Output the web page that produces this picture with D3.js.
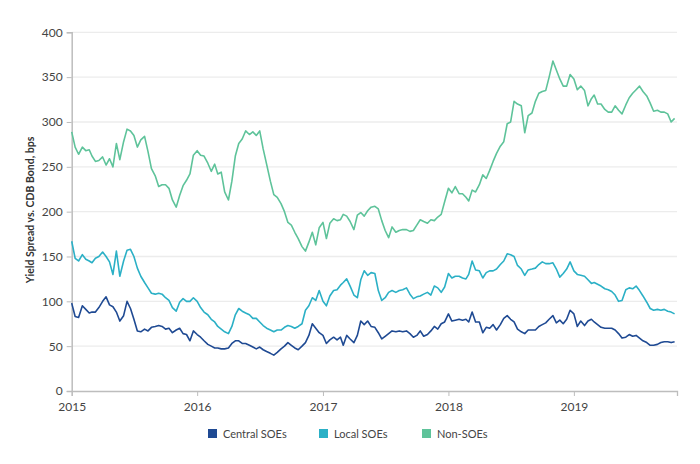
<!DOCTYPE html>
<html><head><meta charset="utf-8">
<script src="https://cdn.jsdelivr.net/npm/d3@7"></script>
<style>body{margin:0;background:#fff}svg{display:block;font-family:Lato,"Open Sans",sans-serif}</style>
</head><body><svg id="c" width="700" height="464"></svg>
<script>
const dates = [
"2015-01-01","2015-01-11","2015-01-21","2015-02-01","2015-02-11","2015-02-21","2015-03-01","2015-03-11","2015-03-21","2015-04-01","2015-04-11","2015-04-21",
"2015-05-01","2015-05-11","2015-05-21","2015-06-01","2015-06-11","2015-06-21","2015-07-01","2015-07-11","2015-07-21","2015-08-01","2015-08-11","2015-08-21",
"2015-09-01","2015-09-11","2015-09-21","2015-10-01","2015-10-11","2015-10-21","2015-11-01","2015-11-11","2015-11-21","2015-12-01","2015-12-11","2015-12-21",
"2016-01-01","2016-01-11","2016-01-21","2016-02-01","2016-02-11","2016-02-21","2016-03-01","2016-03-11","2016-03-21","2016-04-01","2016-04-11","2016-04-21",
"2016-05-01","2016-05-11","2016-05-21","2016-06-01","2016-06-11","2016-06-21","2016-07-01","2016-07-11","2016-07-21","2016-08-01","2016-08-11","2016-08-21",
"2016-09-01","2016-09-11","2016-09-21","2016-10-01","2016-10-11","2016-10-21","2016-11-01","2016-11-11","2016-11-21","2016-12-01","2016-12-11","2016-12-21",
"2017-01-01","2017-01-11","2017-01-21","2017-02-01","2017-02-11","2017-02-21","2017-03-01","2017-03-11","2017-03-21","2017-04-01","2017-04-11","2017-04-21",
"2017-05-01","2017-05-11","2017-05-21","2017-06-01","2017-06-11","2017-06-21","2017-07-01","2017-07-11","2017-07-21","2017-08-01","2017-08-11","2017-08-21",
"2017-09-01","2017-09-11","2017-09-21","2017-10-01","2017-10-11","2017-10-21","2017-11-01","2017-11-11","2017-11-21","2017-12-01","2017-12-11","2017-12-21",
"2018-01-01","2018-01-11","2018-01-21","2018-02-01","2018-02-11","2018-02-21","2018-03-01","2018-03-11","2018-03-21","2018-04-01","2018-04-11","2018-04-21",
"2018-05-01","2018-05-11","2018-05-21","2018-06-01","2018-06-11","2018-06-21","2018-07-01","2018-07-11","2018-07-21","2018-08-01","2018-08-11","2018-08-21",
"2018-09-01","2018-09-11","2018-09-21","2018-10-01","2018-10-11","2018-10-21","2018-11-01","2018-11-11","2018-11-21","2018-12-01","2018-12-11","2018-12-21",
"2019-01-01","2019-01-11","2019-01-21","2019-02-01","2019-02-11","2019-02-21","2019-03-01","2019-03-11","2019-03-21","2019-04-01","2019-04-11","2019-04-21",
"2019-05-01","2019-05-11","2019-05-21","2019-06-01","2019-06-11","2019-06-21","2019-07-01","2019-07-11","2019-07-21","2019-08-01","2019-08-11","2019-08-21",
"2019-09-01","2019-09-11","2019-09-21","2019-10-01","2019-10-11","2019-10-21"
];

const centralSOEs = [
98,83,82,95,91,87,88,88,93,100, 105,96,94,88,78,84,100,92,80,67,
66,69,67,71,72,73,72,69,70,65, 68,70,64,63,56,67,63,60,56,52,
50,48,48,47,47,48,53,56,56,53, 53,51,49,47,49,46,44,42,40,43,
47,50,54,51,48,46,50,54,62,75, 70,65,62,53,57,60,57,60,51,62,
58,54,62,78,74,78,72,71,65,58, 61,64,67,66,67,66,67,64,60,62,
67,61,63,67,72,69,75,77,86,78, 79,80,79,80,77,88,77,77,65,71,
70,74,68,74,81,84,80,77,69,66, 64,68,68,68,72,74,76,80,84,76,
79,75,80,90,86,72,78,73,78,80, 77,74,71,70,70,70,68,64,59,60,
63,61,62,59,56,54,51,51,52,54, 55,55,54,55
];

const localSOEs = [
167,148,145,152,147,145,143,148,150,155, 150,144,130,156,128,145,157,158,150,137,
128,121,115,109,108,109,108,104,101,93, 89,99,103,100,100,104,100,93,88,85,
80,77,72,69,66,64,72,85,92,89, 87,85,81,81,77,73,70,68,66,68,
68,71,73,72,70,72,75,90,95,104, 101,112,100,95,106,112,113,118,121,125,
117,107,104,124,134,129,132,131,112,101, 104,110,112,110,112,113,115,108,103,105,
106,108,110,107,117,115,110,116,131,126, 128,128,126,125,130,145,135,134,126,132,
134,134,136,141,145,153,152,150,140,136, 129,135,136,137,141,144,142,142,143,136,
127,131,136,144,134,130,129,128,124,120, 121,119,117,114,113,111,107,100,101,113,
115,114,117,112,106,99,92,90,91,90, 91,89,88,86
];

const nonSOEs = [
289,272,264,272,268,269,262,256,257,261, 252,259,250,276,258,278,292,290,285,272,
280,284,267,248,240,228,230,230,226,213, 205,218,229,235,242,263,268,263,262,254,
245,253,242,244,222,213,234,262,276,281, 290,286,289,285,290,270,253,234,219,216,
209,200,188,185,177,170,161,156,166,177, 163,182,188,170,187,192,190,191,197,195,
189,180,196,199,195,201,205,206,203,190, 179,171,183,177,179,180,180,178,179,185,
191,189,187,191,190,194,197,211,226,221, 228,220,220,216,212,224,222,230,241,237,
246,256,265,273,278,298,300,323,320,318, 288,307,310,323,332,334,335,350,368,358,
348,340,340,353,348,336,340,335,318,326, 330,320,320,314,311,311,318,313,309,319,
327,332,336,340,334,329,321,312,313,311, 311,309,300,304
];

const yTicks = [0,50,100,150,200,250,300,350,400];
const xTickYears = ["2015","2016","2017","2018","2019"];
const seriesNames = ["Central SOEs","Local SOEs","Non-SOEs"];
const seriesColors = ["#1f4a93","#2bb0c6","#5ec39a"];
const yTitle = "Yield Spread vs. CDB Bond, bps";

const parse = d3.timeParse("%Y-%m-%d");
const svg = d3.select("#c");
const L = 71.7, R = 677, T = 32.3, B = 391;
const x = d3.scaleTime().domain([parse("2015-01-01"), parse("2019-10-28")]).range([L, R]);
const y = d3.scaleLinear().domain([0, 400]).range([B, T]);

// gridlines
svg.append("g").selectAll("line").data(yTicks.filter(d => d > 0)).join("line")
  .attr("x1", L).attr("x2", R).attr("y1", d => y(d)).attr("y2", d => y(d))
  .attr("stroke", "#ececec").attr("stroke-width", 1.3);

// y axis
const ya = svg.append("g").attr("transform", `translate(${L},0)`)
  .call(d3.axisLeft(y).tickValues(yTicks).tickSize(5).tickPadding(4));
ya.select(".domain").attr("stroke", "#bdbdbd").attr("stroke-width", 1.5);
ya.selectAll(".tick line").attr("stroke", "#bdbdbd");
ya.selectAll("text").attr("fill", "#444").attr("font-size", 12).attr("font-family", "Lato,'Open Sans',sans-serif");

// x axis
const xa = svg.append("g").attr("transform", `translate(0,${B})`)
  .call(d3.axisBottom(x).tickValues(xTickYears.map(s => parse(s + "-01-01")))
    .tickFormat(d3.timeFormat("%Y")).tickSize(5).tickPadding(6));
xa.select(".domain").attr("stroke", "#bdbdbd").attr("stroke-width", 1.3);
xa.selectAll(".tick line").attr("stroke", "#bdbdbd");
xa.selectAll("text").attr("fill", "#444").attr("font-size", 12).attr("font-family", "Lato,'Open Sans',sans-serif");

// y title
svg.append("text").attr("transform", "translate(34,210) rotate(-90)")
  .attr("text-anchor", "middle").attr("font-size", 10.5).attr("font-weight", 700)
  .attr("fill", "#333").text(yTitle);

// lines
const series = [centralSOEs, localSOEs, nonSOEs];
const line = d3.line().x((d, i) => x(parse(dates[i]))).y(d => y(d));
series.forEach((s, k) => {
  svg.append("path").datum(s).attr("d", line).attr("fill", "none")
    .attr("stroke", seriesColors[k]).attr("stroke-width", 1.6).attr("stroke-linejoin", "round");
});

// legend
const legX = [208, 319, 422];
seriesNames.forEach((n, k) => {
  svg.append("rect").attr("x", legX[k]).attr("y", 429).attr("width", 9).attr("height", 9).attr("fill", seriesColors[k]);
  svg.append("text").attr("x", legX[k] + 15).attr("y", 437.5).attr("font-size", 11).attr("fill", "#444").text(n);
});
</script></body></html>
